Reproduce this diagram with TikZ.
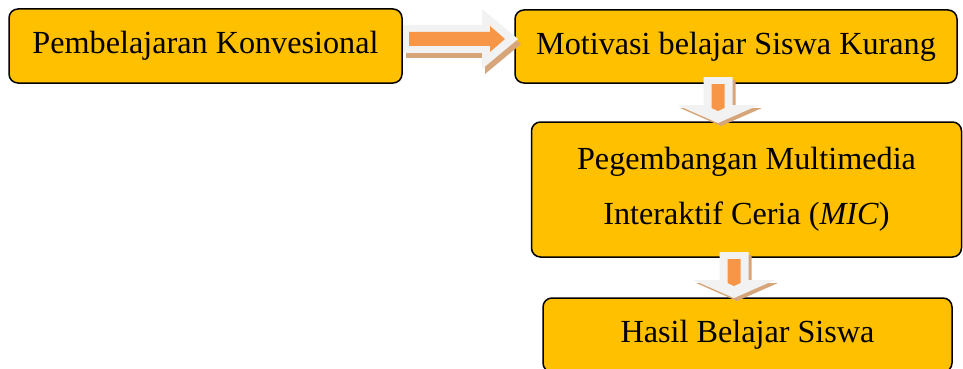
\documentclass[tikz,border=0pt]{standalone}
\usepackage{fontspec}
\setmainfont{Liberation Serif}
\definecolor{boxfill}{HTML}{FFC000}
\definecolor{arrorange}{HTML}{F79646}
\definecolor{arrgrey}{HTML}{F2F2F2}
\definecolor{arrshadow}{RGB}{214,166,122}
\begin{document}
\begin{tikzpicture}[x=1pt,y=-1pt,
  box/.style={draw=black, line width=1.5pt, fill=boxfill, rounded corners=9pt,
    inner sep=0pt, font=\fontsize{32.2}{55}\selectfont, align=center},
  rarrow/.pic={
    \fill[arrshadow,shift={(3,5)}] (0,-14) -- (79,-14) -- (79,-30) -- (115,0) -- (79,30) -- (79,14) -- (0,14) -- cycle;
    \fill[arrgrey] (0,-14) -- (79,-14) -- (79,-30) -- (115,0) -- (79,30) -- (79,14) -- (0,14) -- cycle;
    \fill[arrorange] (6,-7) -- (87,-7) -- (87,-13) -- (102,0) -- (87,13) -- (87,7) -- (6,7) -- cycle;
  },
  darrow/.pic={
    \fill[arrshadow,shift={(3,3)}] (-14.5,0) -- (14.5,0) -- (14.5,28) -- (41,28) -- (0,46) -- (-41,28) -- (-14.5,28) -- cycle;
    \fill[arrgrey] (-14.5,0) -- (14.5,0) -- (14.5,28) -- (41,28) -- (0,46) -- (-41,28) -- (-14.5,28) -- cycle;
    \fill[arrorange] (-6.5,7) -- (6.5,7) -- (6.5,31) -- (0,34) -- (-6.5,31) -- cycle;
  }]
\useasboundingbox (0,0) rectangle (963,369);
\clip (0,0) rectangle (963,369);
\fill[white] (0,0) rectangle (963,369);

\node[box, minimum width=393pt, minimum height=74pt] (a) at (205.5,46) {Pembelajaran Konvesional};
\node[box, minimum width=442pt, minimum height=73pt] (b) at (736,46.5) {Motivasi belajar Siswa Kurang};
\node[box, minimum width=430pt, minimum height=135pt] (c) at (746.5,189.5) {Pegembangan Multimedia\\Interaktif Ceria (\textit{MIC})};
\node[box, minimum width=409pt, minimum height=74pt] (d) at (747.5,335) {Hasil Belajar Siswa};

\coordinate (ab) at (403,39);
\coordinate (bc) at (718,77);
\coordinate (cd) at (734,252);
\pic at (ab) {rarrow};
\pic at (bc) {darrow};
\pic at (cd) {darrow};
\end{tikzpicture}
\end{document}
